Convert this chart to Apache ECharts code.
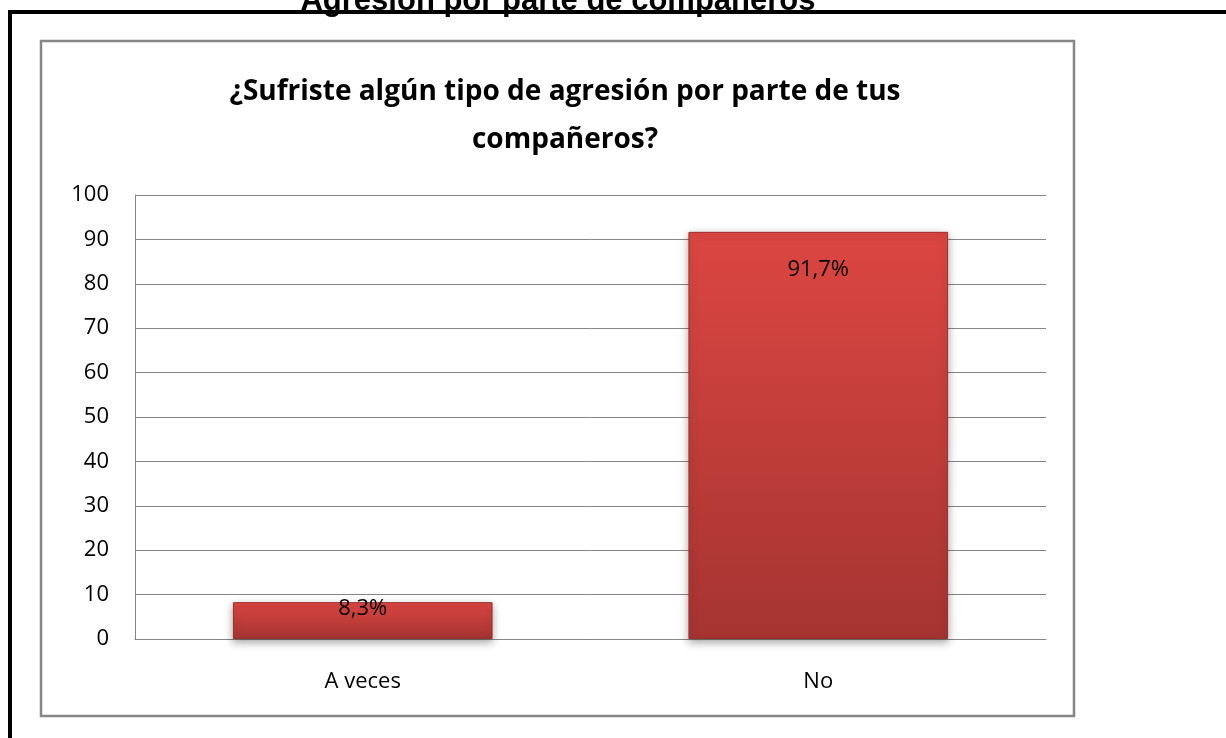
<!DOCTYPE html>
<html>
<head>
<meta charset="utf-8">
<script src="https://cdn.jsdelivr.net/npm/echarts@6/dist/echarts.min.js"></script>
<style>
html, body { margin: 0; padding: 0; background: #fff; }
#chart { width: 1226px; height: 738px; }
</style>
</head>
<body>
<div id="chart"></div>
<script>
// datos
var categorias = ['A veces', 'No'];
var porcentajes = [8.3, 91.7];
var ticksY = [0, 10, 20, 30, 40, 50, 60, 70, 80, 90, 100];

var fuente = "'Open Sans', sans-serif";

var barras = [];
for (var i = 0; i < porcentajes.length; i++) {
    barras.push({
        value: porcentajes[i],
        label: { distance: porcentajes[i] < 20 ? -4 : 27 }
    });
}

var myChart = echarts.init(document.getElementById('chart'));
var option = {
    animation: false,
    backgroundColor: '#ffffff',
    title: [{
        text: 'Agresión por parte de compañeros',
        left: 553,
        textAlign: 'center',
        top: -19,
        textStyle: { fontFamily: 'Liberation Sans, Arial, sans-serif', fontWeight: 'bold', fontSize: 31, color: '#000' }
    }, {
        text: '¿Sufriste algún tipo de agresión por parte de tus\ncompañeros?',
        left: 560,
        textAlign: 'center',
        top: 63,
        textStyle: { fontFamily: fuente, fontWeight: 'bold', fontSize: 28, lineHeight: 48, color: '#000' }
    }],
    graphic: [{
        type: 'rect',
        shape: { x: 10, y: 12, width: 1300, height: 800 },
        style: { fill: 'none', stroke: '#000', lineWidth: 4 },
        z: -1
    }, {
        type: 'rect',
        shape: { x: 41, y: 41, width: 1033, height: 675 },
        style: { fill: '#fff', stroke: '#868686', lineWidth: 2.5 },
        z: -1
    }],
    grid: { left: 135, right: 180, top: 195, bottom: 99 },
    xAxis: {
        type: 'category',
        data: categorias,
        axisLine: { lineStyle: { color: '#868686', width: 1 } },
        axisTick: { show: false },
        axisLabel: { margin: 32, fontFamily: fuente, fontSize: 22, color: '#000' }
    },
    yAxis: {
        type: 'value',
        min: ticksY[0],
        max: ticksY[ticksY.length - 1],
        interval: 10,
        axisLine: { show: true, lineStyle: { color: '#868686' } },
        axisTick: { show: false },
        splitLine: { lineStyle: { color: '#868686' } },
        axisLabel: { margin: 26, fontFamily: fuente, fontSize: 22, color: '#000' }
    },
    series: [{
        type: 'bar',
        data: barras,
        barWidth: '57%',
        itemStyle: {
            color: new echarts.graphic.LinearGradient(0, 0, 0, 1, [
                { offset: 0, color: '#dc4642' },
                { offset: 1, color: '#a53431' }
            ]),
            borderColor: '#9c2f2c',
            borderWidth: 1,
            shadowColor: 'rgba(0,0,0,0.35)',
            shadowBlur: 8,
            shadowOffsetY: 3
        },
        label: {
            show: true,
            position: 'insideTop',
            fontFamily: fuente,
            fontSize: 22,
            color: '#000',
            formatter: function (p) { return String(p.value).replace('.', ',') + '%'; }
        }
    }]
};
myChart.setOption(option);
</script>
</body>
</html>
